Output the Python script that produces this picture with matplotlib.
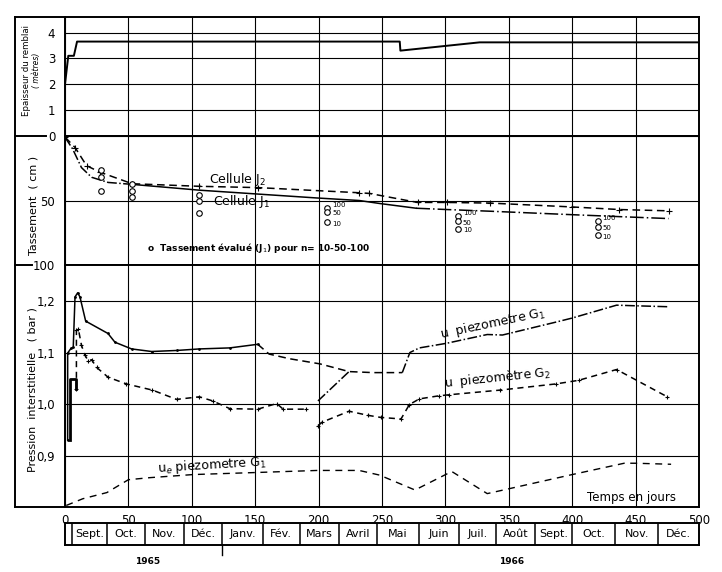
import matplotlib
matplotlib.use('Agg')
import matplotlib.pyplot as plt
from matplotlib.lines import Line2D
from matplotlib.ticker import FuncFormatter

# Epaisseur du remblai (m)
fill_days = [0, 0, 2.6, 7, 9.5, 264, 264.5, 327, 500]
fill_m = [0, 2.0, 3.1, 3.1, 3.65, 3.65, 3.3, 3.62, 3.62]

# Tassement (cm)
j2_days = [0, 8, 17, 27.5, 53, 106, 152, 232, 240, 278, 301, 335, 400, 437, 476]
j2_cm = [0.8, 9, 23, 28, 37, 39, 40, 44, 44.5, 51.5, 51.5, 52, 55, 57, 58]
j1_days = [0, 6, 13, 21, 34, 53, 106, 152, 198, 232, 248, 277, 301, 335, 400, 437, 476]
j1_cm = [1, 10, 24.5, 32, 36, 37.5, 42, 45, 48, 50, 52.3, 56, 57, 58.3, 61, 62.5, 64]

# tassement evalue J1, n = 100 / 50 / 10
est_days = [28, 53, 105.5, 207, 310, 420]
est_n100 = [26, 37, 46, 55.5, 62, 66]
est_n50 = [32, 42.7, 50, 59, 66, 70.5]
est_n10 = [43, 47.4, 60, 67, 72, 77]

# Pression interstitielle (bar)
g1_days = [2.1, 2.1, 4.7, 6.5, 7.9, 10, 11.8, 16.3, 33.9, 39.4, 52.5, 68.3, 88, 106, 130, 152,
           161, 177, 201, 224, 243, 266, 272, 279.5, 301, 333, 345, 387, 400, 435, 447, 475]
g1_bar = [0.93, 1.099, 1.108, 1.110, 1.208, 1.216, 1.208, 1.161, 1.137, 1.12, 1.107, 1.102, 1.104,
          1.107, 1.109, 1.116, 1.097, 1.088, 1.078, 1.063, 1.061, 1.061, 1.1, 1.109, 1.118, 1.135,
          1.134, 1.159, 1.167, 1.192, 1.191, 1.189]
g1b_days = [199.5, 224]
g1b_bar = [1.006, 1.063]

g2a_days = [3.9, 3.9, 9.0, 9.0, 9.0, 10.5, 13, 15.7, 18.3, 21, 25, 34, 48.5, 69, 88, 106, 116.5,
            130, 152, 167, 172, 190]
g2a_bar = [0.93, 1.049, 1.049, 1.03, 1.143, 1.146, 1.114, 1.095, 1.084, 1.086, 1.071, 1.052, 1.039,
           1.027, 1.009, 1.014, 1.006, 0.991, 0.990, 1.001, 0.990, 0.990]
g2b_days = [199.5, 203, 224, 239, 249, 265, 271.6, 279.5, 295, 303, 343, 387, 405, 435, 475]
g2b_bar = [0.958, 0.965, 0.986, 0.978, 0.974, 0.971, 0.999, 1.010, 1.016, 1.018, 1.027, 1.039,
           1.046, 1.067, 1.014]

ue_days = [1, 14, 33, 50, 67, 101, 151, 199, 232, 248, 276, 305, 333, 400, 441, 450, 478]
ue_bar = [0.803, 0.816, 0.828, 0.853, 0.857, 0.863, 0.867, 0.871, 0.871, 0.862, 0.833, 0.869,
          0.826, 0.863, 0.885, 0.885, 0.883]

# calendrier
month_edges = [0, 5.5, 33, 63, 94, 124, 156, 185, 216, 246, 279, 311, 340, 371, 400, 434, 468, 500]
month_names = ['Sept.', 'Oct.', 'Nov.', 'Déc.', 'Janv.', 'Fév.', 'Mars', 'Avril', 'Mai', 'Juin',
               'Juil.', 'Août', 'Sept.', 'Oct.', 'Nov.', 'Déc.']
years = ['1965', '1966']
year_days = [65, 352]
year_split = 124

W, H = 722, 572
fig = plt.figure(figsize=(W / 100, H / 100), dpi=100)


def box(x0, y0, x1, y1):
    return [x0 / W, 1 - y1 / H, (x1 - x0) / W, (y1 - y0) / H]


def fline(xs, ys, lw=1.4):
    fig.add_artist(Line2D([x / W for x in xs], [1 - y / H for y in ys], color='black',
                          lw=lw, transform=fig.transFigure))


ax1 = fig.add_axes(box(65, 17, 699, 136))
ax2 = fig.add_axes(box(65, 136, 699, 265))
ax3 = fig.add_axes(box(65, 265, 699, 507))
axm = fig.add_axes(box(65, 523, 699, 545))

for ax in (ax1, ax2, ax3):
    ax.set_xlim(0, 500)
    ax.set_xticks(range(0, 501, 50))
    ax.grid(True, color='black', lw=0.8)
    ax.set_axisbelow(True)
    for s in ax.spines.values():
        s.set_linewidth(1.4)
    ax.tick_params(length=0, pad=7, labelsize=8.5)
    ax.tick_params(axis='x', labelbottom=False)

# top panel
ax1.plot(fill_days, fill_m, color='black', lw=1.4)
ax1.set_ylim(0, 4.6)
ax1.set_yticks([0, 1, 2, 3, 4])
ax1.set_yticklabels(['', '1', '2', '3', '4'])

# middle panel
ax2.plot(j2_days, j2_cm, color='black', lw=1.1, ls=(0, (5, 3)), marker='+', ms=4, mew=0.8)
ax2.plot(j1_days[:6], j1_cm[:6], color='black', lw=1.1, ls='-.')
ax2.plot(j1_days[5:12], j1_cm[5:12], color='black', lw=1.1)
ax2.plot(j1_days[11:], j1_cm[11:], color='black', lw=1.1, ls=(0, (9, 2, 1, 2)))
for vals in (est_n100, est_n50, est_n10):
    ax2.plot(est_days, vals, ls='none', marker='o', ms=4, mfc='white', mec='black', mew=0.8)
for i in range(3, len(est_days)):
    for vals, lab, dy in ((est_n100, '100', 2), (est_n50, '50', -1), (est_n10, '10', -1)):
        ax2.annotate(lab, (est_days[i], vals[i]), xytext=(3.5, dy), textcoords='offset points',
                     fontsize=5, va='center', ha='left')
ax2.set_ylim(100, 0)
ax2.set_yticks([0, 50, 100])
ax2.text(136, 33.6, 'Cellule J$_2$', fontsize=9, ha='center', va='center')
ax2.text(139, 50.7, 'Cellule J$_1$', fontsize=9, ha='center', va='center')
ax2.text(64.5, 86.7, 'o  Tassement évalué (J$_1$) pour n= 10-50-100', fontsize=6.5,
         fontweight='bold', ha='left', va='center')

# bottom panel
ax3.plot(g1_days[:16], g1_bar[:16], color='black', lw=1.1, marker='.', ms=2)
ax3.plot(g1_days[15:22], g1_bar[15:22], color='black', lw=1.1, ls=(0, (5, 3)))
ax3.plot(g1_days[21:], g1_bar[21:], color='black', lw=1.1, ls='-.')
ax3.plot(g1b_days, g1b_bar, color='black', lw=1.1, ls='-.')
ax3.plot(g2a_days[:4], g2a_bar[:4], color='black', lw=2)
ax3.plot(g2a_days[3:], g2a_bar[3:], color='black', lw=1.1, ls=(0, (4, 3)), marker='+', ms=3,
         mew=0.8)
ax3.plot(g2b_days, g2b_bar, color='black', lw=1.1, ls=(0, (4, 3)), marker='+', ms=3, mew=0.8)
ax3.plot(ue_days, ue_bar, color='black', lw=1.0, ls=(0, (5, 4)))
ax3.set_ylim(0.8, 1.27)
ax3.set_yticks([0.9, 1.0, 1.1, 1.2])
ax3.yaxis.set_major_formatter(FuncFormatter(lambda v, p: f'{v:.1f}'.replace('.', ',')))
ax3.tick_params(axis='x', labelbottom=True, pad=5)
ax3.text(337, 1.157, 'u  piezometre G$_1$', fontsize=9, rotation=12, ha='center', va='center')
ax3.text(341, 1.051, 'u  piezomètre G$_2$', fontsize=9, rotation=6, ha='center', va='center')
ax3.text(116, 0.882, 'u$_e$ piezometre G$_1$', fontsize=9, rotation=3.5, ha='center',
         va='center')
ax3.text(447, 0.818, 'Temps en jours', fontsize=8.5, ha='center', va='center')

# calendar strip
axm.set_xlim(0, 500)
axm.set_ylim(0, 1)
axm.set_xticks([])
axm.set_yticks([])
for s in axm.spines.values():
    s.set_linewidth(1.4)
for e in month_edges[1:-1]:
    axm.axvline(e, color='black', lw=1.1)
for i, name in enumerate(month_names):
    mid = (month_edges[i + 1] + month_edges[i + 2]) / 2
    axm.text(mid, 0.5, name, fontsize=8, ha='center', va='center')
for d, y in zip(year_days, years):
    axm.text(d, -0.75, y, fontsize=6.5, fontweight='bold', ha='center', va='center')
axm.plot([year_split, year_split], [0, -0.45], color='black', lw=1, clip_on=False)

# y labels and outer frame
fig.text(27 / W, 1 - 70 / H, 'Epaisseur du remblai', rotation=90, fontsize=6.2,
         ha='center', va='center')
fig.text(37 / W, 1 - 70 / H, '( mètres)', rotation=90, fontsize=5.5, style='italic',
         ha='center', va='center')
fig.text(33 / W, 1 - 205 / H, 'Tassement  ( cm )', rotation=90, fontsize=8,
         ha='center', va='center')
fig.text(33 / W, 1 - 390 / H, 'Pression  interstitielle   ( bar )', rotation=90, fontsize=8,
         ha='center', va='center')
fline([15, 15], [17, 507])
fline([15, 65], [17, 17])
fline([15, 65], [507, 507])
fline([15, 46], [136, 136])
fline([15, 32], [265, 265])

fig.savefig('out.png', dpi=100)
